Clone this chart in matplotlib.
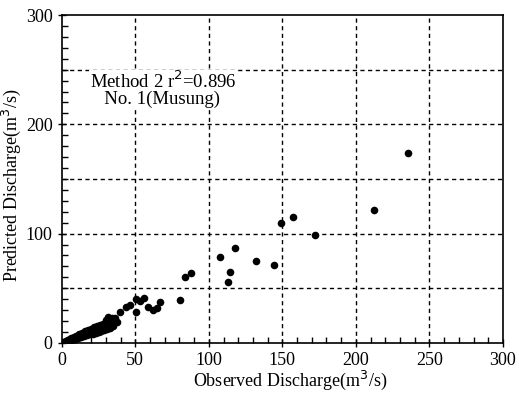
import matplotlib
matplotlib.use("Agg")
import matplotlib.pyplot as plt
from matplotlib.ticker import MultipleLocator

# observed vs predicted discharge (m3/s)
observed = [
    0.5, 1, 1.5, 2, 2.5, 3, 3.5, 4, 4.5, 5, 5.5, 6, 6.5, 7, 7.5, 8, 8.5, 9,
    9.5, 10, 10.5, 11, 12, 12.5, 13, 13.5, 14, 15, 15.5, 16, 16.5, 17, 18,
    18.5, 19, 20, 20.5, 21, 22, 22.5, 23, 24, 24.5, 25, 26, 26.5, 27, 28,
    28.5, 29, 30, 30, 31, 31.5, 32, 33, 34, 35, 37.5,
    # upper and lower edge of the dense band
    4, 6, 8, 10, 12, 14, 16, 18, 20, 22, 24, 26, 28, 30, 32, 34, 36,
    5, 7, 9, 11, 13, 15, 17, 19, 21, 23, 25, 27, 29, 31, 33, 35,
    39.5, 43.5, 46.3, 50.8, 50.8, 53, 56, 58.7, 62.1, 64.8, 67.1,
    80.3, 84.1, 88.2, 107.5, 113.1, 114.7, 117.7,
    132, 144.4, 149.4, 157.3, 171.9, 212.2, 235.6,
]
predicted = [
    0.3, 0.6, 0.8, 1.2, 1.3, 1.8, 1.9, 2.3, 2.4, 2.9, 3.0, 3.4, 3.6, 4.0, 4.3,
    4.5, 4.9, 5.0, 5.5, 5.6, 6.0, 6.3, 6.8, 7.2, 7.4, 7.9, 8.0, 8.6, 9.0, 9.2,
    9.5, 9.8, 10.4, 10.8, 11.0, 11.5, 12.0, 12.2, 12.8, 13.3, 13.4, 14.0, 14.5,
    14.6, 15.2, 15.8, 15.9, 16.4, 17.0, 17.2, 18.0, 21.0, 18.5, 24.0, 22.0,
    21.0, 19.5, 20.5, 19.5,
    3.0, 4.2, 5.5, 6.8, 8.0, 9.5, 10.8, 12.0, 13.2, 14.5, 15.5, 16.8, 17.6,
    19.0, 21.5, 23.0, 22.5,
    2.2, 3.0, 3.8, 4.6, 5.4, 6.2, 7.0, 7.8, 8.6, 9.4, 10.2, 11.0, 12.0, 13.0,
    14.0, 15.5,
    28.6, 32.7, 34.8, 40.0, 28.6, 38.5, 40.9, 32.7, 30.2, 31.7, 37.8,
    39.3, 60.7, 64.3, 79.0, 55.5, 65.2, 86.6,
    75.3, 71.1, 109.5, 115.6, 98.8, 121.7, 173.5,
]

x_ticks = [0, 50, 100, 150, 200, 250, 300]
y_ticks = [0, 100, 200, 300]

plt.rcParams["font.family"] = ["Liberation Serif", "DejaVu Serif"]

fig = plt.figure(figsize=(5.19, 3.96), dpi=100)
ax = fig.add_axes([0.119, 0.134, 0.85, 0.828])

ax.scatter(observed, predicted, s=30, color="black", linewidths=0, zorder=3)

ax.set_xlim(0, 300)
ax.set_ylim(0, 300)
ax.set_xticks(x_ticks)
ax.set_yticks(y_ticks)
ax.xaxis.set_minor_locator(MultipleLocator(10))
ax.yaxis.set_minor_locator(MultipleLocator(10))

# dashed grid every 50 on both axes
for v in range(50, 300, 50):
    ax.axvline(v, color="black", ls=(0, (3, 2.5)), lw=1.0, zorder=1)
    ax.axhline(v, color="black", ls=(0, (3, 2.5)), lw=1.0, zorder=1)

ax.tick_params(which="major", direction="inout", length=6, width=1,
               labelsize=13, colors="black")
ax.tick_params(which="minor", direction="in", length=4, width=1)
for sp in ax.spines.values():
    sp.set_linewidth(1.2)

ax.set_xlabel("Observed Discharge(m$^3$/s)", fontsize=13, labelpad=0)
ax.set_ylabel("Predicted Discharge(m$^3$/s)", fontsize=13, labelpad=2)
ax.xaxis.label.set_x(0.517)
ax.yaxis.label.set_y(0.48)

# annotation, white box hides the grid behind it
ax.text(19, 232, "Method 2 r$^2$=0.896\n   No. 1(Musung)", fontsize=13.5,
        va="center", linespacing=0.95,
        bbox=dict(facecolor="white", edgecolor="none", pad=0.5), zorder=2)

plt.savefig("out.png", dpi=100)
